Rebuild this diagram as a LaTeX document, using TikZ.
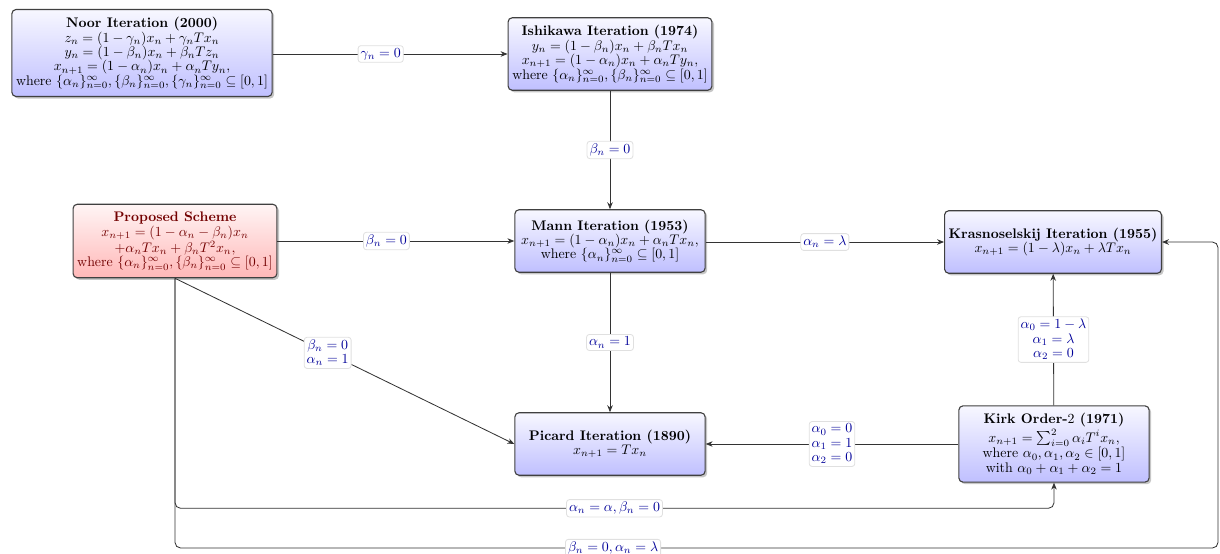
\documentclass[tikz,border=0pt]{standalone}
\usepackage{amsmath,amssymb}
\usetikzlibrary{arrows.meta,positioning,shadows}

\begin{document}
\begin{tikzpicture}[x=0.72pt, y=-0.72pt,
	iter/.style={draw=black!75, line width=0.8pt, rounded corners=3pt, top color=blue!3, bottom color=blue!25, drop shadow={opacity=0.45, shadow xshift=1.5pt, shadow yshift=-1.5pt}, align=center, inner xsep=3pt, inner ysep=5.5pt, minimum width=137pt, minimum height=45pt, font=\fontsize{10}{10.4}\selectfont},
	prop/.style={iter, top color=red!4, bottom color=red!28, text=red!45!black},
	cond/.style={draw=black!12, fill=white, rounded corners=2pt, text=blue!60!black, inner sep=1.8pt, align=center, font=\fontsize{10}{10.4}\selectfont},
	link/.style={draw=black!80, line width=0.6pt, rounded corners=4pt, -{Stealth[length=5pt,width=4pt]}}]
			\useasboundingbox (0,0) rectangle (1220,554);
			\node[iter] (noor) at (142,53) {\textbf{Noor Iteration (2000)}\\ $z_n=(1-\gamma_n)x_n+\gamma_nTx_n$\\ $y_n=(1-\beta_n)x_n+\beta_nTz_n$\\ $x_{n+1}=(1-\alpha_n)x_n+\alpha_nTy_n,$\\ where $\{\alpha_n\}_{n=0}^{\infty},\{\beta_n\}_{n=0}^{\infty},\{\gamma_n\}_{n=0}^{\infty}\subseteq[0,1]$};
			\node[iter] (ishikawa) at (610,54) {\textbf{Ishikawa Iteration (1974)}\\ $y_n=(1-\beta_n)x_n+\beta_nTx_n$\\ $x_{n+1}=(1-\alpha_n)x_n+\alpha_nTy_n,$\\ where $\{\alpha_n\}_{n=0}^{\infty},\{\beta_n\}_{n=0}^{\infty}\subseteq[0,1]$};
			\node[prop] (proposed) at (175,241) {\textbf{Proposed Scheme}\\ $x_{n+1}=(1-\alpha_n-\beta_n)x_n$\\ $+\alpha_nTx_n+\beta_nT^2x_n,$\\ where $\{\alpha_n\}_{n=0}^{\infty},\{\beta_n\}_{n=0}^{\infty}\subseteq[0,1]$};
			\node[iter] (mann) at (610,241) {\textbf{Mann Iteration (1953)}\\ $x_{n+1}=(1-\alpha_n)x_n+\alpha_nTx_n,$\\ where $\{\alpha_n\}_{n=0}^{\infty}\subseteq[0,1]$};
			\node[iter] (kras) at (1053,242) {\textbf{Krasnoselskij Iteration (1955)}\\ $x_{n+1}=(1-\lambda)x_n+\lambda Tx_n$};
			\node[iter] (picard) at (610,444) {\textbf{Picard Iteration (1890)}\\ $x_{n+1}=Tx_n$};
			\node[iter] (kirk) at (1054,444) {\textbf{Kirk Order-$2$ (1971)}\\ $x_{n+1}=\sum_{i=0}^{2}\alpha_iT^ix_n,$\\ where $\alpha_0,\alpha_1,\alpha_2\in[0,1]$\\ with $\alpha_0+\alpha_1+\alpha_2=1$};
			\coordinate (rim) at (1218,548);
			
			\draw[link] (noor.east |- ishikawa) -- node[cond, pos=0.46] {$\gamma_n=0$} (ishikawa);
			\draw[link] (ishikawa) -- node[cond] {$\beta_n=0$} (mann);
			\draw[link] (proposed) -- node[cond, pos=0.46] {$\beta_n=0$} (mann);
			\draw[link] (mann.east |- kras) -- node[cond] {$\alpha_n=\lambda$} (kras);
			\draw[link] (mann) -- node[cond] {$\alpha_n=1$} (picard);
			\draw[link] (proposed.south) -- node[cond, pos=0.45] {$\beta_n=0$\\ $\alpha_n=1$} (picard.west);
			\draw[link] (kirk) -- node[cond] {$\alpha_0=0$\\ $\alpha_1=1$\\ $\alpha_2=0$} (picard);
			\draw[link] (kirk) -- node[cond] {$\alpha_0=1-\lambda$\\ $\alpha_1=\lambda$\\ $\alpha_2=0$} (kras);
			\draw[link] (proposed.south) -- ++(0,230) -| node[cond, pos=0.25] {$\alpha_n=\alpha,\beta_n=0$} (kirk.south);
			\draw[link] (proposed.south) |- node[cond, pos=0.71] {$\beta_n=0,\alpha_n=\lambda$} (rim) |- (kras.east);
		\end{tikzpicture}
\end{document}
